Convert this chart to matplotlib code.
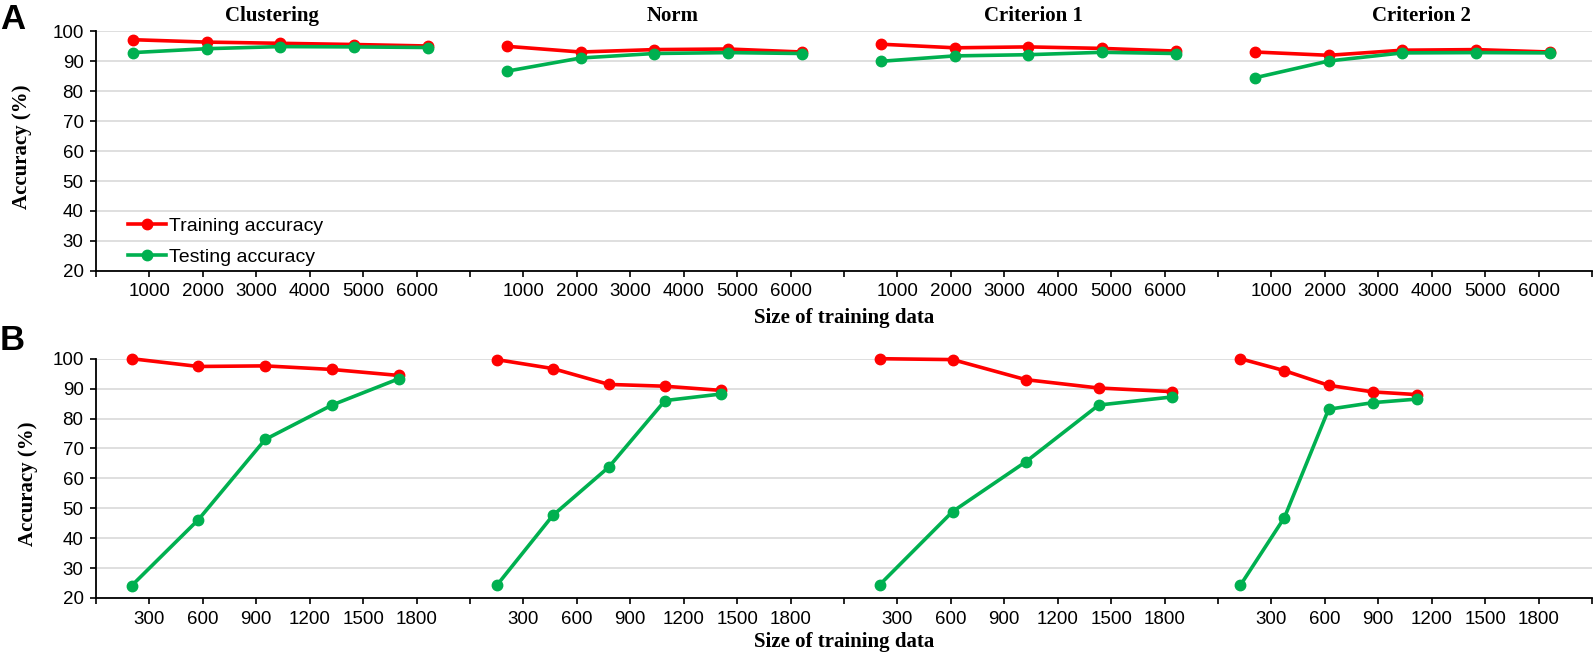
import numpy as np
import matplotlib
matplotlib.use("Agg")
import matplotlib.pyplot as plt

plt.rcParams['font.family'] = ['Liberation Sans', 'DejaVu Sans']

# panel titles
groups = ['Clustering', 'Norm', 'Criterion 1', 'Criterion 2']

# panel A: training sizes and accuracies (%)
a_sizes = [690, 2070, 3450, 4830, 6210]
a_train = [[97.1, 96.3, 95.9, 95.5, 95.0],
           [94.9, 93.0, 93.8, 94.0, 93.0],
           [95.6, 94.4, 94.7, 94.2, 93.3],
           [93.0, 91.9, 93.6, 93.8, 93.0]]
a_test = [[92.8, 94.1, 94.8, 94.7, 94.5],
          [86.6, 91.0, 92.5, 92.8, 92.5],
          [89.9, 91.7, 92.1, 92.9, 92.5],
          [84.4, 90.0, 92.7, 92.8, 92.7]]

# panel B
b_sizes = [[200, 575, 950, 1325, 1700],
           [150, 465, 780, 1095, 1410],
           [200, 610, 1020, 1430, 1840],
           [125, 373, 621, 869, 1117]]
b_train = [[100.0, 97.4, 97.6, 96.4, 94.4],
           [99.7, 96.7, 91.4, 90.8, 89.4],
           [100.0, 99.7, 93.0, 90.2, 89.0],
           [100.0, 96.0, 91.1, 88.9, 88.0]]
b_test = [[24.1, 46.2, 73.0, 84.5, 93.3],
          [24.2, 47.6, 63.8, 86.0, 88.2],
          [24.4, 48.9, 65.5, 84.5, 87.2],
          [24.2, 46.9, 83.1, 85.3, 86.5]]

a_step, b_step = 1000, 300       # x tick spacing
n_slots = 7                      # tick intervals per group
yticks = list(range(20, 101, 10))

RED = '#FF0000'
GREEN = '#00B050'
serif_bold = dict(family='Liberation Serif', fontweight='bold', fontsize=15)

fig = plt.figure(figsize=(15.94, 6.57), dpi=100)
W, H = 1594, 657
left, right = 96, 1592


def make_axes(top, bottom):
    return fig.add_axes([left / W, 1 - bottom / H, (right - left) / W, (bottom - top) / H])


def style_axes(ax, step, ylab_pos, xlab_y):
    width = step * n_slots
    ticks = np.arange(0, 4 * width + 1, step)
    labels = []
    for k in range(len(ticks)):
        r = k % n_slots
        labels.append(str(r * step) if r != 0 else '')
    ax.set_xticks(ticks)
    ax.set_xticklabels(labels)
    ax.set_xlim(0, 4 * width)
    ax.set_ylim(20, 100)
    ax.set_yticks(yticks)
    for s in ['top', 'right']:
        ax.spines[s].set_visible(False)
    for s in ['left', 'bottom']:
        ax.spines[s].set_linewidth(1.3)
        ax.spines[s].set_color('black')
    ax.tick_params(axis='x', length=4, width=1.2, pad=5, labelsize=13.5)
    ax.tick_params(axis='y', length=4, width=1.2, pad=5, labelsize=13.5)
    ax.yaxis.grid(True, color='#d9d9d9', linewidth=1.2)
    ax.set_axisbelow(True)
    ax.set_ylabel('Accuracy (%)', **serif_bold)
    ax.yaxis.set_label_coords(*ylab_pos)
    ax.set_xlabel('Size of training data', **serif_bold)
    ax.xaxis.set_label_coords(0.5, xlab_y)


# ---- panel A
axA = make_axes(31, 271)
style_axes(axA, a_step, (-0.043, 0.517), -0.155)
widthA = a_step * n_slots
for g in range(4):
    xs = np.array(a_sizes) + g * widthA
    axA.plot(xs, a_train[g], color=RED, lw=2.6, marker='o', ms=7.5,
             label='Training accuracy' if g == 0 else None, clip_on=False)
    axA.plot(xs, a_test[g], color=GREEN, lw=2.6, marker='o', ms=7.5,
             label='Testing accuracy' if g == 0 else None, clip_on=False)

title_pos = [3.3, 3.8, 3.55, 3.8]
for g, name in enumerate(groups):
    axA.text(g * widthA + title_pos[g] * a_step, 1.042, name, ha='center', va='baseline',
             transform=axA.get_xaxis_transform(), **serif_bold)

axA.legend(loc='lower left', bbox_to_anchor=(0.012, -0.035), frameon=False, fontsize=14,
           handlelength=2.0, handletextpad=0.15, labelspacing=0.68, borderpad=0.2)

# ---- panel B
axB = make_axes(358.7, 598)
style_axes(axB, b_step, (-0.039, 0.477), -0.14)
widthB = b_step * n_slots
for g in range(4):
    xs = np.array(b_sizes[g]) + g * widthB
    axB.plot(xs, b_train[g], color=RED, lw=2.6, marker='o', ms=7.5, clip_on=False)
    axB.plot(xs, b_test[g], color=GREEN, lw=2.6, marker='o', ms=7.5, clip_on=False)

fig.text(0.0, 1 - 3 / H, 'A', fontsize=25, fontweight='bold', ha='left', va='top')
fig.text(0.0, 1 - 324 / H, 'B', fontsize=25, fontweight='bold', ha='left', va='top')

fig.savefig('out.png', dpi=100)
